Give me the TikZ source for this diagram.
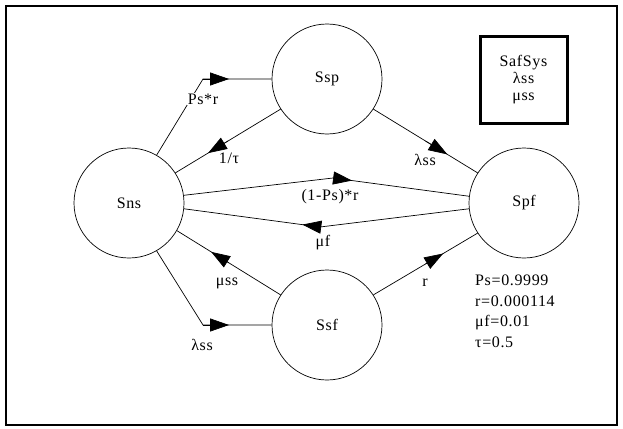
\documentclass[tikz,border=0pt]{standalone}
\usepackage{fontspec}
\setmainfont[LetterSpace=4]{Liberation Serif}
\usetikzlibrary{arrows.meta,calc}

\begin{document}
\begin{tikzpicture}[x=1pt,y=-1pt,
  state/.style={draw,circle,minimum size=110pt,inner sep=0pt,line width=0.7pt,font=\fontsize{16}{19}\selectfont},
  lbl/.style={font=\fontsize{16}{19}\selectfont,inner sep=1pt},
  edge/.style={line width=0.7pt},
  tipa/.style={line width=0.7pt,-{Triangle[length=19pt,width=13pt]}}
]
\useasboundingbox (0,0) rectangle (623,428);
\draw[line width=2.5pt] (6,6) rectangle (617,425);

\node[state] (sns) at (129,203) {Sns};
\node[state] (ssp) at (327,79) {Ssp};
\node[state] (spf) at (524,203) {Spf};
\node[state] (ssf) at (327,325) {Ssf};

% Sns -> Ssp (Ps*r)
\coordinate (b1) at (203,79);
\draw[edge] (sns.60) -- (b1) -- (ssp.west);
\draw[tipa] (b1) -- ($(b1)!0.38!(ssp.west)$);
\node[lbl,fill=white] (l1) at (203,99) {Ps*r};

% Ssp -> Sns (1/tau)
\draw[edge] (ssp.213) -- (sns.33);
\draw[tipa] ($(ssp.213)!0.5!(sns.33)$) -- ($(ssp.213)!0.69!(sns.33)$);
\node[lbl] (l2) at (229,158) {1/τ};

% Ssp -> Spf (lambda ss)
\draw[edge] (ssp.-33) -- (spf.147);
\draw[tipa] ($(ssp.-33)!0.5!(spf.147)$) -- ($(ssp.-33)!0.71!(spf.147)$);
\node[lbl] (l3) at (425,160) {λss};

% Sns -> Spf ((1-Ps)*r)
\coordinate (b3) at (333,178);
\draw[edge] (sns.8) -- (b3) -- (spf.173);
\draw[tipa] (b3) -- ($(b3)!0.14!(spf.173)$);
\node[lbl] (l4) at (330,197) {(1-Ps)*r};

% Spf -> Sns (mu f)
\coordinate (b4) at (320,227);
\draw[edge] (spf.186) -- (b4) -- (sns.-6);
\draw[tipa] (b4) -- ($(b4)!0.13!(sns.-6)$);
\node[lbl] (l5) at (323,243) {μf};

% Ssf -> Sns (mu ss)
\draw[edge] (ssf.147) -- (sns.-30);
\draw[tipa] ($(ssf.147)!0.5!(sns.-30)$) -- ($(ssf.147)!0.67!(sns.-30)$);
\node[lbl] (l6) at (227,283) {μss};

% Ssf -> Spf (r)
\draw[edge] (ssf.33) -- (spf.213);
\draw[tipa] ($(ssf.33)!0.5!(spf.213)$) -- ($(ssf.33)!0.67!(spf.213)$);
\node[lbl] (l7) at (425,283) {r};

% Sns -> Ssf (lambda ss)
\coordinate (b5) at (203,325);
\draw[edge] (sns.-60) -- (b5) -- (ssf.west);
\draw[tipa] (b5) -- ($(b5)!0.38!(ssf.west)$);
\node[lbl] (l8) at (202,345) {λss};

% legend box
\node[draw,line width=3pt,minimum width=87pt,minimum height=86pt,align=center,
      font=\fontsize{16}{17}\selectfont] (box) at (523.5,80) {SafSys\\λss\\μss};

% parameters
\node[anchor=north west,align=left,inner sep=0pt,
      font=\fontsize{16}{20.5}\selectfont] (par) at (475,275) {Ps=0.9999\\r=0.000114\\μf=0.01\\τ=0.5};
\end{tikzpicture}
\end{document}
